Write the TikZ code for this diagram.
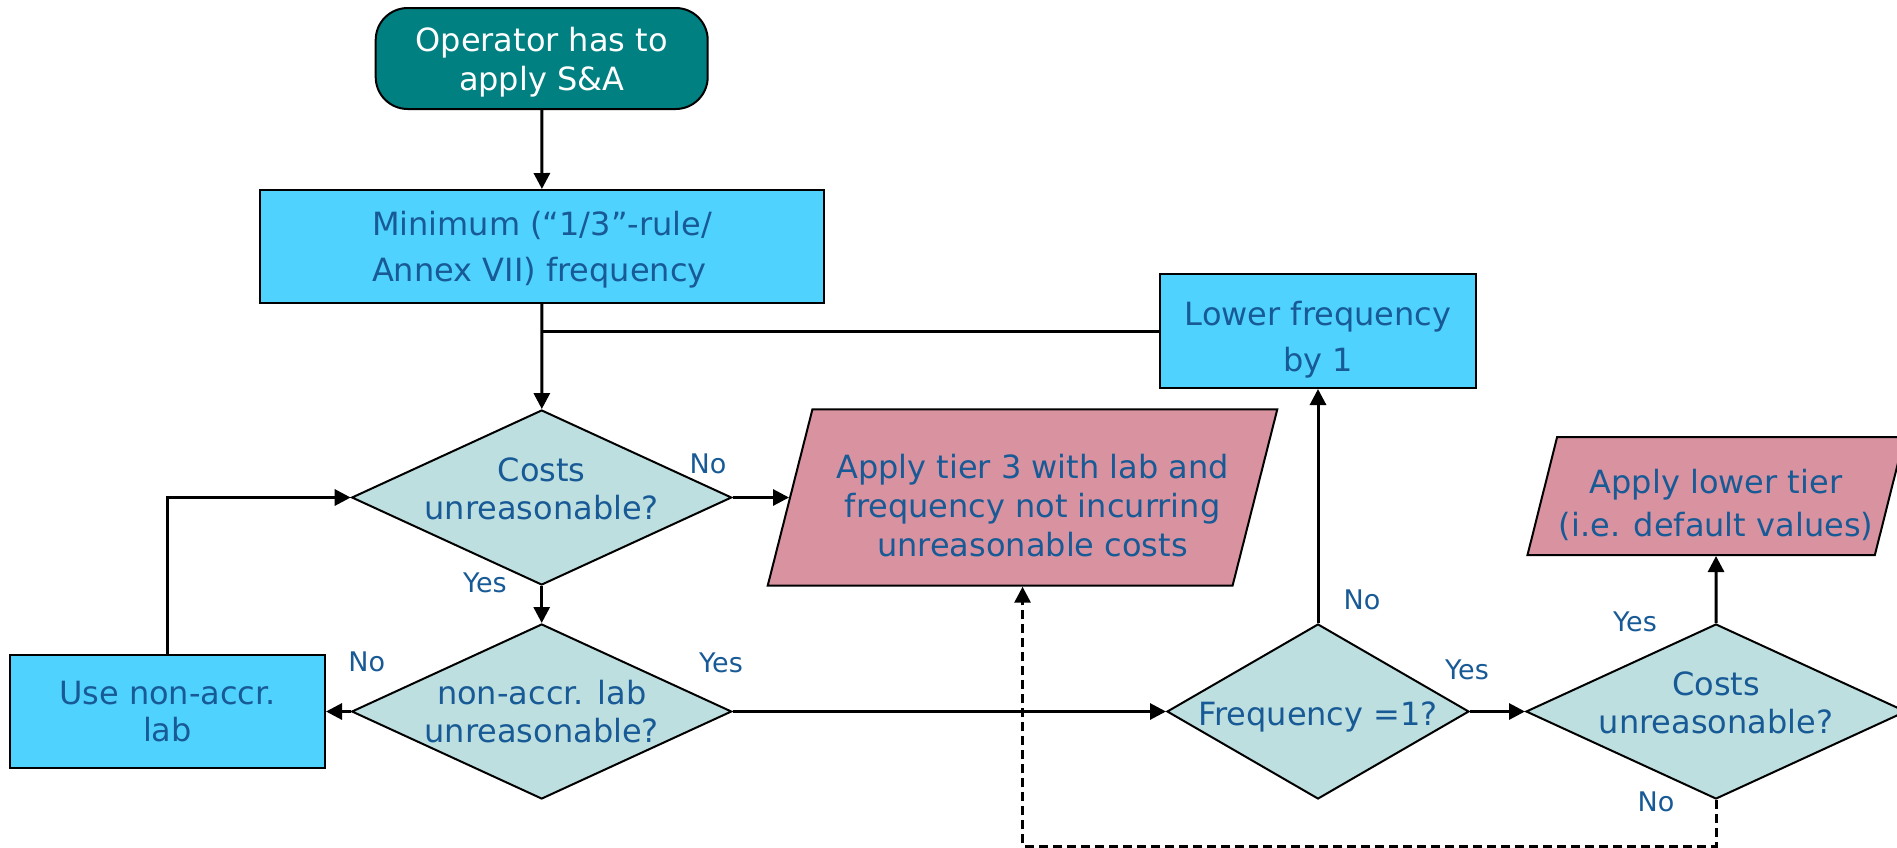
\documentclass[tikz,border=0pt]{standalone}
\usepackage{fontspec}
\setmainfont{DejaVu Sans}
\usepackage{xcolor}
\usetikzlibrary{shapes, arrows.meta, positioning, calc}

\definecolor{startteal}{RGB}{0,128,128}
\definecolor{boxblue}{RGB}{80,210,255}
\definecolor{decisiongrey}{RGB}{190,223,223}
\definecolor{outpink}{RGB}{217,146,159}
\definecolor{textblue}{RGB}{24,90,150}

\begin{document}
\begin{tikzpicture}[
    x=0.5pt, y=-0.5pt,
    every node/.style={text=textblue},
    terminal/.style={
        rectangle,
        draw,
        line width=1pt,
        fill=startteal,
        text=white,
        rounded corners=16pt,
        align=center,
        inner sep=0pt,
        minimum width=166pt,
        minimum height=50.5pt,
        font=\fontsize{16}{19.5}\selectfont
    },
    block/.style={
        rectangle,
        draw,
        line width=1pt,
        fill=boxblue,
        align=center,
        inner sep=0pt,
        minimum width=158pt,
        minimum height=57pt,
        font=\fontsize{16}{23.3}\selectfont
    },
    decision/.style={
        diamond,
        draw,
        line width=1pt,
        fill=decisiongrey,
        align=center,
        aspect=2,
        inner xsep=-25pt,
        inner ysep=-5pt,
        minimum width=190pt,
        minimum height=87.5pt,
        font=\fontsize{16}{19}\selectfont
    },
    outcome/.style={
        trapezium,
        trapezium stretches body,
        draw,
        line width=1pt,
        fill=outpink,
        align=center,
        inner sep=0pt,
        font=\fontsize{16}{19.7}\selectfont
    },
    lbl/.style={
        inner sep=0pt,
        font=\fontsize{13.5}{16}\selectfont
    },
    % nudge the text inside a shape
    textdown/.style={execute at begin node={\rule{0pt}{#1}}},
    textup/.style={execute at end node={\rule[-#1]{0pt}{#1}}},
    line/.style={
        draw,
        -{Triangle[length=8pt, width=8pt]},
        line width=1.5pt
    }
]
\useasboundingbox (0,0) rectangle (1897,847);

% Nodes
\node [terminal, textdown=35.3pt] (start) at (541.7,58.5) {Operator has to\\apply S\&A};
\node [block, textdown=38.5pt, minimum width=282pt, minimum height=56.5pt, align=left] (minfreq) at (542,246.5) {Minimum (“1/3”-rule/\\Annex VII) frequency};
\node [decision, textup=9pt] (costs) at (541.7,497.5) {Costs\\unreasonable?};
\node [outcome, execute at begin node={\hspace*{10pt}\rule{0pt}{59.6pt}}, trapezium left angle=69.5, trapezium right angle=110.5, minimum width=254.8pt, minimum height=88.2pt] (tier3) at (1022.5,497.5) {Apply tier 3 with lab and\\frequency not incurring\\unreasonable costs};
\node [decision] (nonaccr) at (541.7,711.5) {non-accr. lab\\unreasonable?};
\node [block, minimum width=157.5pt, minimum height=56.5pt, font=\fontsize{16}{18.6}\selectfont] (uselab) at (167.5,711.5) {Use non-accr.\\lab};
\node [block, textdown=44pt] (lowerfreq) at (1318,331) {Lower frequency\\by 1};
\node [decision, textdown=17pt, minimum width=151pt] (freq) at (1318,711.5) {Frequency =1?};
\node [decision, textup=9pt] (costsdef) at (1716,711.5) {Costs\\unreasonable?};
\node [outcome, textdown=42.7pt, trapezium left angle=71.7, trapezium right angle=108.3, minimum width=188.5pt, minimum height=59pt, font=\fontsize{16}{21.5}\selectfont] (lowertier) at (1716,496) {Apply lower tier\\(i.e. default values)};

% Yes/No labels
\node [lbl] (no1) at (708,464) {No};
\node [lbl] (yes1) at (485,583) {Yes};
\node [lbl] (no2) at (366.7,662) {No};
\node [lbl] (yes2) at (721,663) {Yes};
\node [lbl] (no3) at (1362,600) {No};
\node [lbl] (yes3) at (1467,670) {Yes};
\node [lbl] (yes4) at (1635,622) {Yes};
\node [lbl] (no4) at (1656,802) {No};

% Paths
\path [line] (start) -- (minfreq);
\path [line] (minfreq) -- (costs);
\draw [line width=1.5pt] (lowerfreq.west) -- (lowerfreq.west -| minfreq.south);
\path [line] (costs.east) -- (tier3.west);
\path [line] (costs) -- (nonaccr);
\path [line] (nonaccr) -- (uselab);
\path [line] (uselab.north) |- (costs.west);
\path [line] (nonaccr) -- (freq);
\path [line] (freq) -- (lowerfreq);
\path [line] (freq) -- (costsdef);
\path [line] (costsdef) -- (lowertier);
% No branch goes back to tier 3
\path [line, dash pattern=on 4.5pt off 2.5pt] (costsdef.south) -- ++(0,46) -| (tier3.south);

\end{tikzpicture}
\end{document}
